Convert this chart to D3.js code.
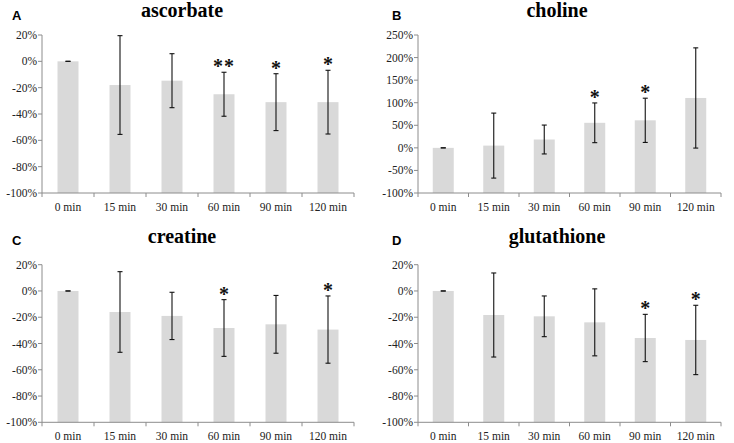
<!DOCTYPE html>
<html><head><meta charset="utf-8">
<script src="https://cdnjs.cloudflare.com/ajax/libs/d3/7.8.5/d3.min.js"></script>
</head><body>
<svg id="c" width="734" height="443" font-family="Liberation Serif" style="position:absolute;left:0;top:0"></svg>
<script>
const categories = ["0 min","15 min","30 min","60 min","90 min","120 min"];

const ascorbateMean = [0, -18, -14.7, -25, -31, -31];
const ascorbateErr  = [0, 37.5, 20.5, 16.7, 21.6, 24.2];
const ascorbateStars = ["", "", "", "**", "*", "*"];

const cholineMean = [0, 5, 18.5, 55.5, 61, 110.5];
const cholineErr  = [0, 72, 32, 44, 49, 111];
const cholineStars = ["", "", "", "*", "*", ""];

const creatineMean = [0, -16, -19, -28.2, -25.4, -29.4];
const creatineErr  = [0, 30.7, 18, 21.6, 22, 25.6];
const creatineStars = ["", "", "", "*", "", "*"];

const glutathioneMean = [0, -18.3, -19.3, -23.9, -35.8, -37.3];
const glutathioneErr  = [0, 32, 15.5, 25.5, 18, 26.4];
const glutathioneStars = ["", "", "", "", "*", "*"];

const yTicksSmall = [-100, -80, -60, -40, -20, 0, 20];
const yTicksLarge = [-100, -50, 0, 50, 100, 150, 200, 250];

const panels = [
  {letter:"A", title:"ascorbate", mean:ascorbateMean, err:ascorbateErr, stars:ascorbateStars, ticks:yTicksSmall,
   x0:42, x1:354, y0:35, y1:193, lx:12, ly:20, tx:182, ty:17},
  {letter:"B", title:"choline", mean:cholineMean, err:cholineErr, stars:cholineStars, ticks:yTicksLarge,
   x0:418, x1:721, y0:35, y1:193, lx:392, ly:20, tx:557, ty:17},
  {letter:"C", title:"creatine", mean:creatineMean, err:creatineErr, stars:creatineStars, ticks:yTicksSmall,
   x0:42, x1:354, y0:264.7, y1:422.3, lx:12, ly:245, tx:182, ty:243},
  {letter:"D", title:"glutathione", mean:glutathioneMean, err:glutathioneErr, stars:glutathioneStars, ticks:yTicksSmall,
   x0:418, x1:721, y0:264.7, y1:422.3, lx:392, ly:245, tx:557, ty:243}
];

const svg = d3.select("#c");
const axisColor = "#8c8c8c";

function serifText(size, bold) {
  return svg.append("text").style("font-family", '"Liberation Serif"').style("font-size", size + "px")
            .style("font-weight", bold ? "bold" : "normal");
}

panels.forEach(p => {
  const xb = d3.scaleBand().domain(categories).range([p.x0, p.x1]);
  const y = d3.scaleLinear().domain([d3.min(p.ticks), d3.max(p.ticks)]).range([p.y1, p.y0]);
  const base = d3.min(p.ticks);

  p.mean.forEach((d, i) => {
    svg.append("rect")
      .attr("x", xb(categories[i]) + xb.bandwidth()/2 - 10.5)
      .attr("width", 21)
      .attr("y", y(d))
      .attr("height", y(base) - y(d))
      .attr("fill", "#d9d9d9");
  });

  svg.append("line").attr("x1", p.x0).attr("x2", p.x0).attr("y1", p.y0).attr("y2", p.y1).attr("stroke", axisColor);
  p.ticks.forEach(t => {
    svg.append("line").attr("x1", p.x0 - 4).attr("x2", p.x0).attr("y1", y(t)).attr("y2", y(t)).attr("stroke", axisColor);
    serifText(11.5, false)
      .attr("x", p.x0 - 5).attr("y", y(t)).attr("dy", "0.35em").attr("text-anchor", "end").attr("fill", "#222")
      .text(t + "%");
  });

  svg.append("line").attr("x1", p.x0).attr("x2", p.x1).attr("y1", p.y1).attr("y2", p.y1).attr("stroke", axisColor);
  categories.map(c => xb(c)).concat([p.x1]).forEach(bx => {
    svg.append("line").attr("x1", bx).attr("x2", bx).attr("y1", p.y1).attr("y2", p.y1 + 4).attr("stroke", axisColor);
  });
  categories.forEach(c => {
    serifText(11.5, false)
      .attr("x", xb(c) + xb.bandwidth()/2).attr("y", p.y1 + 18)
      .attr("text-anchor", "middle").attr("fill", "#222")
      .text(c);
  });

  p.mean.forEach((m, i) => {
    const cx = xb(categories[i]) + xb.bandwidth()/2;
    const e = p.err[i];
    const yt = y(m + e), yb = y(m - e);
    [[cx, cx, yt, yb], [cx-2.5, cx+2.5, yt, yt], [cx-2.5, cx+2.5, yb, yb]].forEach(l => {
      svg.append("line").attr("x1", l[0]).attr("x2", l[1]).attr("y1", l[2]).attr("y2", l[3])
        .attr("stroke", "#111").attr("stroke-width", 1.1);
    });
    if (p.stars[i]) {
      serifText(20, true)
        .attr("x", cx).attr("y", yt + 1).attr("text-anchor", "middle")
        .attr("letter-spacing", p.stars[i].length > 1 ? 1 : 0).attr("fill", "#111")
        .text(p.stars[i]);
    }
  });

  serifText(20, true)
    .attr("x", p.tx).attr("y", p.ty).attr("text-anchor", "middle").attr("fill", "#000")
    .text(p.title);
  svg.append("text").style("font-family", '"Liberation Sans"').style("font-size", "13px").style("font-weight", "bold")
    .attr("x", p.lx).attr("y", p.ly).attr("fill", "#000")
    .text(p.letter);
});
</script>
</body></html>
